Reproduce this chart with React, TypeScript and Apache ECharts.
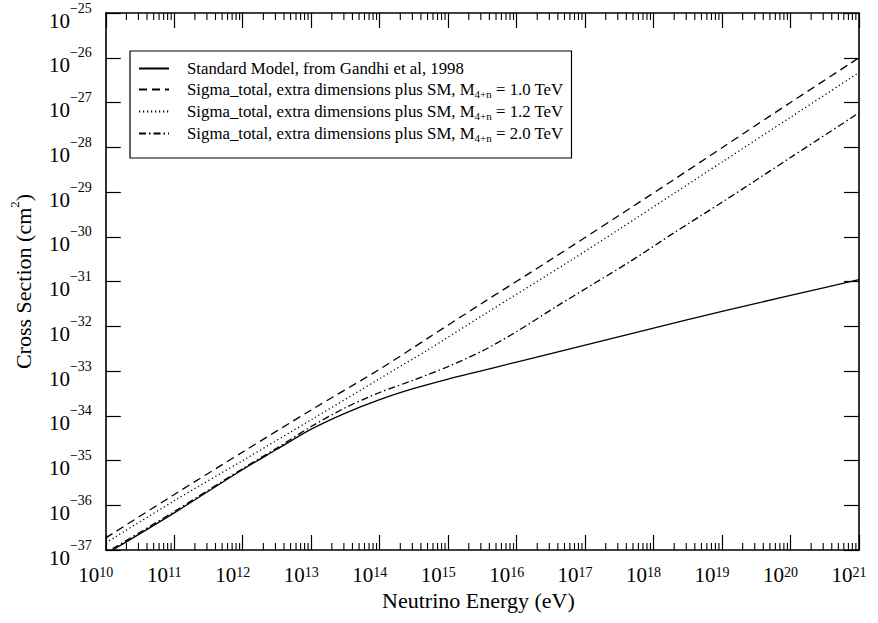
import React, { useEffect, useRef } from "react";
import * as echarts from "echarts";

// log10(E / eV) and log10(sigma / cm^2)
const smX = [10.1, 11, 12, 12.5, 13, 13.5, 14, 14.5, 15, 15.5, 16, 17, 18, 19, 20, 21];
const smY = [-37.0, -36.17, -35.2, -34.75, -34.3, -33.94, -33.64, -33.39, -33.18, -32.99, -32.8, -32.42, -32.04, -31.67, -31.31, -30.96];

const m10X = [10, 11, 12, 13, 14, 14.7, 15.5, 16.5, 17.5, 18.3, 19, 20, 21];
const m10Y = [-36.73, -35.76, -34.81, -33.87, -32.96, -32.27, -31.48, -30.51, -29.52, -28.72, -28.01, -27.0, -26.0];

const m12X = [10, 11, 12, 13, 14, 14.7, 15.5, 16.8, 17.5, 18.3, 19, 20, 21];
const m12Y = [-36.84, -35.9, -35.0, -34.09, -33.17, -32.53, -31.76, -30.52, -29.83, -29.03, -28.33, -27.33, -26.33];

const m20X = [10.1, 11, 12, 12.5, 13, 13.5, 14, 14.5, 15, 15.5, 16, 16.6, 17.66, 18.3, 19, 20, 21];
const m20Y = [-36.97, -36.14, -35.18, -34.72, -34.24, -33.82, -33.48, -33.2, -32.9, -32.55, -32.12, -31.54, -30.55, -29.91, -29.23, -28.23, -27.23];

const seriesNames = [
  "Standard Model, from Gandhi et al, 1998",
  "Sigma_total, extra dimensions plus SM, M4+n = 1.0 TeV",
  "Sigma_total, extra dimensions plus SM, M4+n = 1.2 TeV",
  "Sigma_total, extra dimensions plus SM, M4+n = 2.0 TeV",
];

const xDecades = [10, 11, 12, 13, 14, 15, 16, 17, 18, 19, 20];
const minorMultipliers = [2, 3, 4, 5, 6, 7, 8, 9];

const FONT = "'Liberation Serif', 'DejaVu Serif', serif";

function pairs(xs: number[], ys: number[]) {
  return xs.map((x, i) => [x, ys[i]]);
}

export default function App() {
  const ref = useRef<HTMLDivElement>(null);

  useEffect(() => {
    document.body.style.margin = "0";
    const chart = echarts.init(ref.current!, null, { renderer: "svg" });

    const minorTicks: number[][] = [];
    xDecades.forEach((d) => {
      minorMultipliers.forEach((m) => {
        minorTicks.push([d + Math.log10(m), -37]);
      });
    });

    const lineW = 1.3;
    const axisLine = { show: true, lineStyle: { color: "#000", width: 1.6 } };
    const majorTick = { show: true, inside: true, length: 15, lineStyle: { color: "#000", width: 1.2 } };

    const xRich = {
      b: { fontFamily: FONT, fontSize: 21, color: "#000", lineHeight: 20, verticalAlign: "bottom" },
      e: { fontFamily: FONT, fontSize: 14, color: "#000", lineHeight: 14, verticalAlign: "top" },
    };
    const yRich = {
      b: { fontFamily: FONT, fontSize: 21, color: "#000", lineHeight: 30, verticalAlign: "bottom" },
      e: { fontFamily: FONT, fontSize: 14, color: "#000", lineHeight: 14, verticalAlign: "top" },
    };

    const fmtExp = (v: number) => {
      const n = Math.round(v);
      const s = n < 0 ? "\u2212" + String(-n) : String(n);
      return `{b|10}{e|${s}}`;
    };

    const legendFmt = (name: string) => {
      if (name.indexOf("M4+n") >= 0) {
        const parts = name.split("M4+n");
        return `{t|${parts[0]}M}{sub|4+n}{t|${parts[1]}}`;
      }
      return `{t|${name}}`;
    };

    const option: any = {
      animation: false,
      backgroundColor: "#fff",
      grid: { left: 93, right: 19, top: 13, bottom: 73 },
      legend: {
        data: seriesNames,
        orient: "vertical",
        left: 130,
        top: 51,
        padding: [9, 8, 15, 8],
        borderColor: "#000",
        borderWidth: 1.2,
        itemWidth: 30,
        itemHeight: 14,
        itemGap: 4,
        selectedMode: false,
        formatter: legendFmt,
        itemStyle: { opacity: 0, color: "rgba(0,0,0,0)", borderWidth: 0 },
        textStyle: {
          fontFamily: FONT,
          fontSize: 16.8,
          color: "#000",
          padding: [0, 0, 0, 13],
          rich: {
            t: { fontFamily: FONT, fontSize: 16.8, color: "#000", lineHeight: 19 },
            sub: { fontFamily: FONT, fontSize: 11, color: "#000", lineHeight: 11, verticalAlign: "bottom" },
          },
        },
      },
      xAxis: [
        {
          type: "value",
          min: 10,
          max: 21,
          interval: 1,
          position: "bottom",
          axisLine,
          axisTick: majorTick,
          splitLine: { show: false },
          axisLabel: {
            margin: 15,
            padding: [0, 20, 0, 0],
            formatter: fmtExp,
            rich: xRich,
            showMinLabel: true,
            showMaxLabel: true,
            hideOverlap: false,
          },
          name: "Neutrino Energy (eV)",
          nameLocation: "middle",
          nameGap: 33,
          nameTextStyle: { fontFamily: FONT, fontSize: 22, color: "#000", padding: [0, 8, 0, 0] },
        },
        {
          type: "value",
          min: 10,
          max: 21,
          interval: 1,
          position: "top",
          axisLine,
          axisTick: majorTick,
          splitLine: { show: false },
          axisLabel: { show: false },
        },
      ],
      yAxis: [
        {
          type: "value",
          min: -37,
          max: -25,
          interval: 1,
          position: "left",
          axisLine,
          axisTick: majorTick,
          splitLine: { show: false },
          axisLabel: {
            margin: 14,
            padding: [6, 0, 0, 0],
            formatter: fmtExp,
            rich: yRich,
            showMinLabel: true,
            showMaxLabel: true,
            hideOverlap: false,
          },
          name: "Cross Section (cm{s|2})",
          nameLocation: "middle",
          nameGap: 67,
          nameTextStyle: {
            fontFamily: FONT,
            fontSize: 22,
            color: "#000",
            lineHeight: 30,
            rich: { s: { fontFamily: FONT, fontSize: 13, color: "#000", lineHeight: 13, verticalAlign: "top" } },
          },
        },
        {
          type: "value",
          min: -37,
          max: -25,
          interval: 1,
          position: "right",
          axisLine,
          axisTick: majorTick,
          splitLine: { show: false },
          axisLabel: { show: false },
        },
      ],
      series: [
        {
          name: seriesNames[0],
          type: "line",
          data: pairs(smX, smY),
          symbol: "none",
          smooth: 0.3,
          lineStyle: { color: "#000", width: lineW, type: "solid" },
          itemStyle: { color: "#000" },
        },
        {
          name: seriesNames[1],
          type: "line",
          data: pairs(m10X, m10Y),
          symbol: "none",
          smooth: 0.3,
          lineStyle: { color: "#000", width: lineW, type: [8, 5] },
          itemStyle: { color: "#000" },
        },
        {
          name: seriesNames[2],
          type: "line",
          data: pairs(m12X, m12Y),
          symbol: "none",
          smooth: 0.3,
          lineStyle: { color: "#000", width: lineW, type: [1.2, 2.8] },
          itemStyle: { color: "#000" },
        },
        {
          name: seriesNames[3],
          type: "line",
          data: pairs(m20X, m20Y),
          symbol: "none",
          smooth: 0.3,
          lineStyle: { color: "#000", width: lineW, type: [7, 3, 1.5, 3] },
          itemStyle: { color: "#000" },
        },
        {
          name: "minor",
          type: "custom",
          silent: true,
          clip: false,
          data: minorTicks,
          renderItem: (params: any, api: any) => {
            const x = api.value(0);
            const pb = api.coord([x, -37]);
            const pt = api.coord([x, -25]);
            const st = { stroke: "#000", lineWidth: 1.1 };
            return {
              type: "group",
              children: [
                { type: "line", shape: { x1: pb[0], y1: pb[1], x2: pb[0], y2: pb[1] - 7 }, style: st },
                { type: "line", shape: { x1: pt[0], y1: pt[1], x2: pt[0], y2: pt[1] + 7 }, style: st },
              ],
            };
          },
        },
      ],
    };

    chart.setOption(option);
    return () => chart.dispose();
  }, []);

  return (
    <div
      ref={ref}
      style={{ position: "fixed", left: 0, top: 0, width: 878, height: 623, background: "#fff" }}
    />
  );
}
